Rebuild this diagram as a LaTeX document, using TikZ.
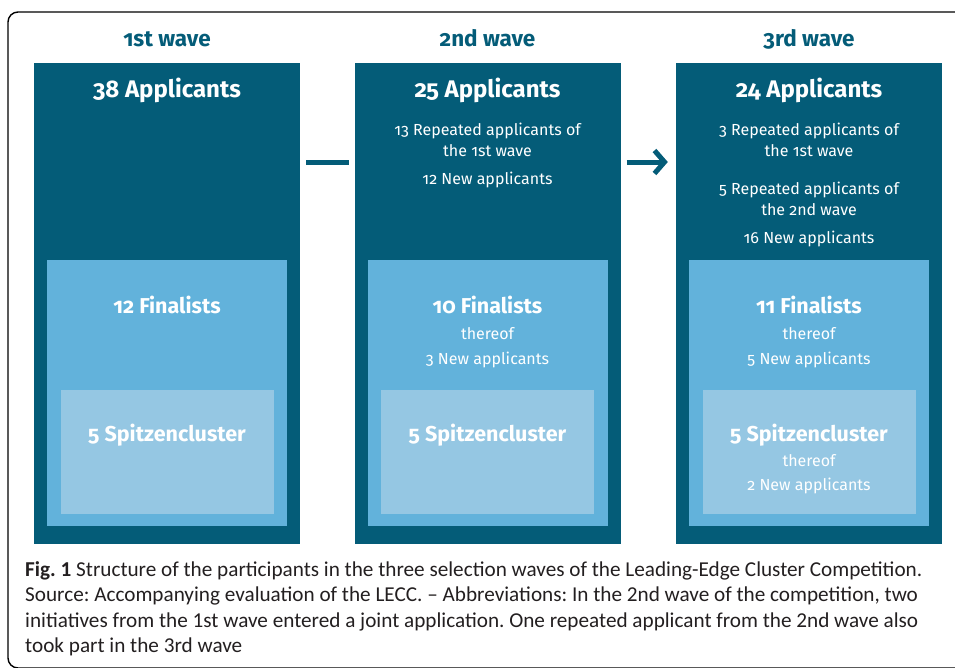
\documentclass[tikz,border=0pt]{standalone}
\usepackage{fontspec}
\setmainfont{Fira Sans}[Numbers=OldStyle]
\newfontfamily\figcaptionfont{Carlito}
\usepackage{xcolor}
\usetikzlibrary{arrows.meta}
\usetikzlibrary{positioning}

\definecolor{wavedark}{RGB}{4,92,120}
\definecolor{wavemid}{RGB}{98,178,219}
\definecolor{wavelight}{RGB}{149,199,227}
\definecolor{captiongray}{RGB}{35,31,32}

\begin{document}
\frenchspacing
\begin{tikzpicture}[x=1pt,y=-1pt,
    applbox/.style={fill=wavedark, inner sep=0pt, minimum width=266, minimum height=481},
    finalbox/.style={fill=wavemid, inner sep=0pt, minimum width=240, minimum height=266},
    clusterbox/.style={fill=wavelight, inner sep=0pt, minimum width=213, minimum height=124},
    wavehead/.style={anchor=base, text=wavedark, font=\fontsize{22.5}{26}\selectfont\bfseries},
    toptxt/.style={anchor=base, text=white, font=\fontsize{24}{28}\selectfont\bfseries},
    bigtxt/.style={anchor=base, text=white, font=\fontsize{21.5}{24}\selectfont\bfseries},
    smalltxt/.style={anchor=base, text=white, font=\fontsize{16}{19}\selectfont},
    wavelink/.style={draw=wavedark, line width=5pt}]
        \newcommand{\figwavesonex}{167}
        \newcommand{\figwavestwox}{487.5}
        \newcommand{\figwavesthreex}{809}
        \newcommand{\figwavesdarky}{303.5}
        \newcommand{\figwavesmidy}{393}
        \newcommand{\figwaveslighty}{452}
        % frame and page
        \clip (0,0) rectangle (955,667);
        \draw[line width=1.4pt, rounded corners=10pt] (8,12) rectangle (985,668);
        % nested boxes
        \node[applbox] (appone) at (\figwavesonex,\figwavesdarky) {};
        \node[applbox] (apptwo) at (\figwavestwox,\figwavesdarky) {};
        \node[applbox] (appthree) at (\figwavesthreex,\figwavesdarky) {};
        \node[finalbox] (finone) at (\figwavesonex,\figwavesmidy) {};
        \node[finalbox] (fintwo) at (\figwavestwox,\figwavesmidy) {};
        \node[finalbox] (finthree) at (\figwavesthreex,\figwavesmidy) {};
        \node[clusterbox] (clusone) at (\figwavesonex,\figwaveslighty) {};
        \node[clusterbox] (clustwo) at (\figwavestwox,\figwaveslighty) {};
        \node[clusterbox] (clusthree) at (\figwavesthreex,\figwaveslighty) {};
        % headings
        \node[wavehead] (headone) at (\figwavesonex,46) {1st wave};
        \node[wavehead] (headtwo) at (\figwavestwox,46) {2nd wave};
        \node[wavehead] (headthree) at (\figwavesthreex,46) {3rd wave};
        % 1st wave
        \node[toptxt] (apponetxt) at (\figwavesonex,97) {38 Applicants};
        \node[bigtxt] (finonetxt) at (\figwavesonex,313) {12 Finalists};
        \node[bigtxt] (clusonetxt) at (\figwavesonex,441) {5 Spitzencluster};
        % 2nd wave
        \node[toptxt] (apptwotxt) at (\figwavestwox,97) {25 Applicants};
        \node[smalltxt] (apptworepa) at (\figwavestwox,135) {13 Repeated applicants of};
        \node[smalltxt] (apptworepb) at (\figwavestwox,156) {the 1st wave};
        \node[smalltxt] (apptwonew) at (\figwavestwox,184) {12 New applicants};
        \node[bigtxt] (fintwotxt) at (\figwavestwox,313) {10 Finalists};
        \node[smalltxt] (fintwothereof) at (\figwavestwox,339) {thereof};
        \node[smalltxt] (fintwonew) at (\figwavestwox,364) {3 New applicants};
        \node[bigtxt] (clustwotxt) at (\figwavestwox,441) {5 Spitzencluster};
        % 3rd wave
        \node[toptxt] (appthreetxt) at (\figwavesthreex,97) {24 Applicants};
        \node[smalltxt] (appthreerepa) at (\figwavesthreex,135) {3 Repeated applicants of};
        \node[smalltxt] (appthreerepb) at (\figwavesthreex,156) {the 1st wave};
        \node[smalltxt] (appthreerepc) at (\figwavesthreex,194) {5 Repeated applicants of};
        \node[smalltxt] (appthreerepd) at (\figwavesthreex,215) {the 2nd wave};
        \node[smalltxt] (appthreenew) at (\figwavesthreex,243) {16 New applicants};
        \node[bigtxt] (finthreetxt) at (\figwavesthreex,313) {11 Finalists};
        \node[smalltxt] (finthreethereof) at (\figwavesthreex,339) {thereof};
        \node[smalltxt] (finthreenew) at (\figwavesthreex,364) {5 New applicants};
        \node[bigtxt] (clusthreetxt) at (\figwavesthreex,441) {5 Spitzencluster};
        \node[smalltxt] (clusthreethereof) at (\figwavesthreex,466) {thereof};
        \node[smalltxt] (clusthreenew) at (\figwavesthreex,490) {2 New applicants};
        % links between the waves
        \coordinate (linkrow) at (0,162);
        \draw[wavelink] ([xshift=6pt]appone.east |- linkrow) -- ([xshift=-5pt]apptwo.west |- linkrow);
        \draw[wavelink, -{Straight Barb[length=10pt, width=23pt]}] ([xshift=6pt]apptwo.east |- linkrow) -- ([xshift=-8pt]appthree.west |- linkrow);
        % caption
        \node[anchor=base west, inner sep=0pt, text=captiongray, align=left,
              font=\figcaptionfont\fontsize{21.2}{25.5}\selectfont] (figcaption) at (25,652.5)
            {\textbf{Fig. 1} Structure of the participants in the three selection waves of the Leading-Edge Cluster Competition.\\
             Source: Accompanying evaluation of the LECC. – Abbreviations: In the 2nd wave of the competition, two\\
             initiatives from the 1st wave entered a joint application. One repeated applicant from the 2nd wave also\\
             took part in the 3rd wave};
    \end{tikzpicture}
\end{document}
